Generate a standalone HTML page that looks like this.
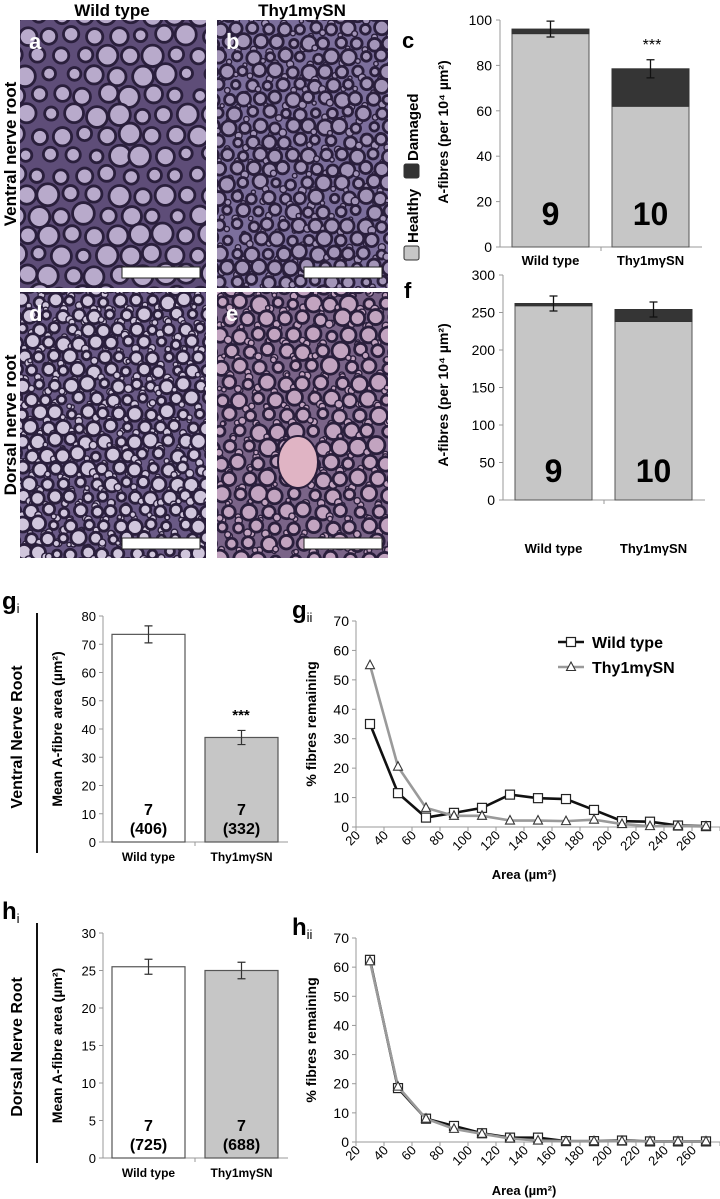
<!DOCTYPE html>
<html><head><meta charset="utf-8">
<style>
html,body{margin:0;padding:0;background:#fff;}
svg{display:block;font-family:"Liberation Sans",Arial,sans-serif;}
</style></head>
<body>
<svg id="fig" width="720" height="1199" viewBox="0 0 720 1199" xmlns="http://www.w3.org/2000/svg">
  <defs>
    <clipPath id="clipA"><rect x="20" y="20" width="186" height="268"/></clipPath>
    <clipPath id="clipB"><rect x="217" y="20" width="171" height="268"/></clipPath>
    <clipPath id="clipD"><rect x="20" y="292" width="186" height="266"/></clipPath>
    <clipPath id="clipE"><rect x="217" y="292" width="171" height="266"/></clipPath>
  </defs>
  <text x="112" y="16" text-anchor="middle" font-size="17" font-weight="bold">Wild type</text>
  <text x="302" y="16" text-anchor="middle" font-size="17" font-weight="bold">Thy1mγSN</text>
  <text transform="translate(16,154) rotate(-90)" text-anchor="middle" font-size="17" font-weight="bold">Ventral nerve root</text>
  <text transform="translate(16,425) rotate(-90)" text-anchor="middle" font-size="17" font-weight="bold">Dorsal nerve root</text>
  <g id="micro"></g>
  <g id="charts"></g>
</svg>
<script>
// ---------- chart data ----------
const groups = ["Wild type", "Thy1mγSN"];
const cHealthy = [94, 62];
const cTotal = [96, 78.5];
const cErr = [3.5, 4];
const cN = ["9", "10"];
const cTicks = [0, 20, 40, 60, 80, 100];
const fHealthy = [259, 238];
const fTotal = [262, 254];
const fErr = [10, 10];
const fN = ["9", "10"];
const fTicks = [0, 50, 100, 150, 200, 250, 300];
const giMean = [73.5, 37];
const giErr = [3, 2.5];
const giN = ["7", "7"];
const giFibres = ["(406)", "(332)"];
const giTicks = [0, 10, 20, 30, 40, 50, 60, 70, 80];
const hiMean = [25.5, 25];
const hiErr = [1, 1.1];
const hiN = ["7", "7"];
const hiFibres = ["(725)", "(688)"];
const hiTicks = [0, 5, 10, 15, 20, 25, 30];
const areaTicks = [20, 40, 60, 80, 100, 120, 140, 160, 180, 200, 220, 240, 260];
const areaBins = [30, 50, 70, 90, 110, 130, 150, 170, 190, 210, 230, 250, 270];
const pctTicks = [0, 10, 20, 30, 40, 50, 60, 70];
const giiWild = [35, 11.5, 3.2, 4.8, 6.5, 11, 9.8, 9.5, 5.8, 2, 1.8, 0.5, 0.3];
const giiThy = [55, 20.5, 6.5, 3.8, 3.8, 2.2, 2.2, 2, 2.5, 1, 0.3, 0.3, 0.2];
const hiiWild = [62.5, 18.5, 8, 5.5, 3, 1.5, 1.5, 0.3, 0.3, 0.5, 0.2, 0.2, 0.2];
const hiiThy = [62, 19, 8, 4.5, 2.8, 1.2, 0.5, 0.3, 0.3, 0.3, 0.2, 0.2, 0.2];

const NS = "http://www.w3.org/2000/svg";
function mk(tag, attrs, parent, text) {
  const e = document.createElementNS(NS, tag);
  for (const k in attrs) e.setAttribute(k, attrs[k]);
  if (text !== undefined) e.textContent = text;
  parent.appendChild(e);
  return e;
}
const charts = document.getElementById("charts");
function linY(v0, v1, p0, p1) { return v => p0 + (v - v0) * (p1 - p0) / (v1 - v0); }

// ---------- micrographs (texture) ----------
let seed = 7;
function rnd() { seed = (seed * 16807) % 2147483647; return (seed - 1) / 2147483646; }
function micro(clip, x0, y0, w, h, bg, fill, big, small, name, pinkBlob) {
  const g = mk("g", {"clip-path": "url(#" + clip + ")"}, document.getElementById("micro"));
  
  
  mk("rect", {x: x0, y: y0, width: w, height: h, fill: bg}, g);
  const step = big * 2.3;
  for (let yy = y0 - 5; yy < y0 + h + 10; yy += step * 0.87) {
    for (let xx = x0 - 5; xx < x0 + w + 10; xx += step) {
      const off = (Math.round((yy - y0) / (step * 0.87)) % 2) * step / 2;
      const r = big * (0.6 + rnd() * 0.5);
      mk("circle", {cx: xx + off + (rnd() - 0.5) * 4, cy: yy + (rnd() - 0.5) * 4, r: r, fill: fill, stroke: "#2a1f3c", "stroke-width": 2.8}, g);
      if (small) {
        for (let k = 0; k < small; k++) {
          mk("circle", {cx: xx + off + step / 2 + (rnd() - 0.5) * 6, cy: yy + step * 0.4 + (rnd() - 0.5) * 6, r: 2 + rnd() * 2, fill: fill, stroke: "#2a1f3c", "stroke-width": 1.4}, g);
        }
      }
    }
  }
  if (pinkBlob) {
    mk("ellipse", {cx: 298, cy: 462, rx: 20, ry: 26, fill: "#e0b4c4", stroke: "#2a1f3c", "stroke-width": 2}, g);
  }
}
micro("clipA", 20, 20, 186, 268, "#5e4d78", "#b8aacb", 10, 0, "micrograph-a-wild-ventral");
micro("clipB", 217, 20, 171, 268, "#7c6f9c", "#a395b8", 7, 1, "micrograph-b-thy-ventral");
micro("clipD", 20, 292, 186, 266, "#6a5a86", "#d0c6dc", 7, 2, "micrograph-d-wild-dorsal");
micro("clipE", 217, 292, 171, 266, "#7a6488", "#c2a4c0", 8, 2, "micrograph-e-thy-dorsal", true);
const mg = document.getElementById("micro");
[[20, 20, "a"], [217, 20, "b"], [20, 292, "d"], [217, 292, "e"]].forEach(p => {
  const t = mk("text", {x: p[0] + 9, y: p[1] + 29, "font-size": 22, "font-weight": "bold", fill: "#fff"}, mg, p[2]);
  
  
});
[[122, 267], [304, 267], [122, 538], [304, 538]].forEach((p, i) => {
  const r = mk("rect", {x: p[0], y: p[1], width: 78, height: 11, fill: "#fff", stroke: "#222", "stroke-width": 1}, mg);
  
  
});

// ---------- stacked bars c/f ----------
function stacked(opts) {
  const g = mk("g", {}, charts);
  
  
  const y = linY(0, opts.max, opts.y0, opts.y1);
  const ax = opts.ax;
  mk("line", {x1: ax, y1: opts.y0, x2: ax, y2: opts.y1, stroke: "#999", "stroke-width": 1}, g);
  mk("line", {x1: ax, y1: opts.y0, x2: ax + 202, y2: opts.y0, stroke: "#999", "stroke-width": 1}, g);
  opts.ticks.forEach(t => {
    mk("line", {x1: ax - 4, y1: y(t), x2: ax, y2: y(t), stroke: "#999"}, g);
    const tl = mk("text", {x: ax - 8, y: y(t) + 5, "text-anchor": "end", "font-size": 14}, g, String(t));
    
    
  });
  mk("line", {x1: ax + 101, y1: opts.y0, x2: ax + 101, y2: opts.y0 + 4, stroke: "#999"}, g);
  groups.forEach((gname, i) => {
    const bx = ax + 12 + i * 100, bw = 77;
    const h = mk("rect", {x: bx, y: y(opts.healthy[i]), width: bw, height: opts.y0 - y(opts.healthy[i]), fill: "#c6c6c6", stroke: "#555", "stroke-width": 1}, g);
    
    
    const d = mk("rect", {x: bx, y: y(opts.total[i]), width: bw, height: y(opts.healthy[i]) - y(opts.total[i]), fill: "#353535", stroke: "#333", "stroke-width": 1}, g);
    
    
    const cx = bx + bw / 2, e1 = y(opts.total[i] + opts.err[i]), e2 = y(opts.total[i] - opts.err[i]);
    const eb = mk("path", {d: `M${cx},${e1}V${e2}M${cx - 4},${e1}H${cx + 4}M${cx - 4},${e2}H${cx + 4}`, stroke: "#111", "stroke-width": 1.3, fill: "none"}, g);
    
    
    const nt = mk("text", {x: cx, y: opts.nY, "text-anchor": "middle", "font-size": 32, "font-weight": "bold"}, g, opts.n[i]);
    
    
    const xl = mk("text", {x: cx, y: opts.labY, "text-anchor": "middle", "font-size": 13, "font-weight": "bold"}, g, gname);
    
    
  });
  const yt = mk("text", {transform: `translate(${opts.titleX},${opts.titleY}) rotate(-90)`, "text-anchor": "middle", "font-size": 14, "font-weight": "bold"}, g, "A-fibres (per 10⁴ µm²)");
  
  
  return {g, y};
}
const c = stacked({name: "chart-c", ax: 500, y0: 247, y1: 20, max: 100, ticks: cTicks, healthy: cHealthy, total: cTotal, err: cErr, n: cN, nY: 225, labY: 265, titleX: 448, titleY: 132});
const ct = mk("text", {x: 652, y: 50, "text-anchor": "middle", "font-size": 16}, c.g, "***");


const cl = mk("text", {x: 402, y: 48, "font-size": 22, "font-weight": "bold"}, c.g, "c");


// legend (rotated)
const lg = mk("g", {transform: "translate(420,260) rotate(-90)"}, c.g);


mk("rect", {x: 0, y: -16, width: 14, height: 15, fill: "#c6c6c6", stroke: "#333", rx: 2}, lg);
mk("text", {x: 17, y: -2, "font-size": 15, "font-weight": "bold"}, lg, "Healthy");
mk("rect", {x: 82, y: -16, width: 14, height: 15, fill: "#333", stroke: "#333", rx: 2}, lg);
mk("text", {x: 99, y: -2, "font-size": 15, "font-weight": "bold"}, lg, "Damaged");

const f = stacked({name: "chart-f", ax: 503, y0: 500, y1: 275, max: 300, ticks: fTicks, healthy: fHealthy, total: fTotal, err: fErr, n: fN, nY: 482, labY: 553, titleX: 448, titleY: 395});
const fl = mk("text", {x: 404, y: 298, "font-size": 22, "font-weight": "bold"}, f.g, "f");



// ---------- mean bar charts gi/hi ----------
function meanChart(o) {
  const g = mk("g", {}, charts);
  
  
  const y = linY(0, o.max, o.y0, o.y1);
  const ax = 103;
  mk("line", {x1: ax, y1: o.y0, x2: ax, y2: o.y1, stroke: "#999"}, g);
  mk("line", {x1: ax, y1: o.y0, x2: 288, y2: o.y0, stroke: "#999"}, g);
  mk("line", {x1: 195, y1: o.y0, x2: 195, y2: o.y0 + 4, stroke: "#999"}, g);
  o.ticks.forEach(t => {
    mk("line", {x1: ax - 4, y1: y(t), x2: ax, y2: y(t), stroke: "#999"}, g);
    const tl = mk("text", {x: ax - 7, y: y(t) + 5, "text-anchor": "end", "font-size": 13}, g, String(t));
    
    
  });
  groups.forEach((gname, i) => {
    const bx = 112 + i * 93, bw = 73, cx = bx + bw / 2;
    const b = mk("rect", {x: bx, y: y(o.mean[i]), width: bw, height: o.y0 - y(o.mean[i]), fill: i ? "#c6c6c6" : "#fff", stroke: "#555", "stroke-width": 1.2}, g);
    
    
    const e1 = y(o.mean[i] + o.err[i]), e2 = y(o.mean[i] - o.err[i]);
    const eb = mk("path", {d: `M${cx},${e1}V${e2}M${cx - 4},${e1}H${cx + 4}M${cx - 4},${e2}H${cx + 4}`, stroke: "#333", "stroke-width": 1.2, fill: "none"}, g);
    
    
    const n1 = mk("text", {x: cx, y: o.y0 - 27, "text-anchor": "middle", "font-size": 16, "font-weight": "bold"}, g, o.n[i]);
    
    
    const n2 = mk("text", {x: cx, y: o.y0 - 8, "text-anchor": "middle", "font-size": 16, "font-weight": "bold"}, g, o.fib[i]);
    
    
    const xl = mk("text", {x: cx, y: o.y0 + 19, "text-anchor": "middle", "font-size": 12, "font-weight": "bold"}, g, gname);
    
    
  });
  const yt = mk("text", {transform: `translate(62,${(o.y0 + o.y1) / 2}) rotate(-90)`, "text-anchor": "middle", "font-size": 14, "font-weight": "bold"}, g, "Mean A-fibre area (µm²)");
  
  
  mk("line", {x1: 37, y1: o.lineTop, x2: 37, y2: o.lineTop + 240, stroke: "#111", "stroke-width": 2}, g);
  const rl = mk("text", {transform: `translate(22,${o.lineTop + 124}) rotate(-90)`, "text-anchor": "middle", "font-size": 16, "font-weight": "bold"}, g, o.root);
  
  
  const pl = mk("text", {x: 2, y: o.lineTop - 4, "font-size": 24, "font-weight": "bold"}, g, o.letter);
  
  
  mk("tspan", {"font-size": 13, "font-weight": "normal", dy: 4}, pl, "i");
  return {g, y};
}
const gi = meanChart({name: "chart-gi", y0: 842, y1: 616, max: 80, ticks: giTicks, mean: giMean, err: giErr, n: giN, fib: giFibres, lineTop: 613, root: "Ventral Nerve Root", letter: "g"});
const gs = mk("text", {x: 241, y: 720, "text-anchor": "middle", "font-size": 15, "font-weight": "bold"}, gi.g, "***");


meanChart({name: "chart-hi", y0: 1158, y1: 933, max: 30, ticks: hiTicks, mean: hiMean, err: hiErr, n: hiN, fib: hiFibres, lineTop: 923, root: "Dorsal Nerve Root", letter: "h"});

// ---------- line charts gii/hii ----------
function lineChart(o) {
  const g = mk("g", {}, charts);
  
  
  const ax = 356, bw = 28;
  const y = linY(0, 70, o.y0, o.y1);
  const x = v => ax + (v - 20) / 20 * bw;
  mk("line", {x1: ax, y1: o.y0, x2: ax, y2: o.y1, stroke: "#999"}, g);
  mk("line", {x1: ax, y1: o.y0, x2: x(280), y2: o.y0, stroke: "#999"}, g);
  pctTicks.forEach(t => {
    mk("line", {x1: ax - 4, y1: y(t), x2: ax, y2: y(t), stroke: "#999"}, g);
    const tl = mk("text", {x: ax - 7, y: y(t) + 5, "text-anchor": "end", "font-size": 14}, g, String(t));
    
    
  });
  areaTicks.concat([280]).forEach(t => {
    mk("line", {x1: x(t), y1: o.y0, x2: x(t), y2: o.y0 + 4, stroke: "#999"}, g);
  });
  areaTicks.forEach(t => {
    const tl = mk("text", {transform: `translate(${x(t) + 5},${o.y0 + 9}) rotate(-45)`, "text-anchor": "end", "font-size": 13}, g, String(t));
    
    
  });
  function series(vals, color, marker, nm, w) {
    const sg = mk("g", {}, g);
    
    
    mk("polyline", {points: areaBins.map((b, i) => x(b) + "," + y(vals[i])).join(" "), fill: "none", stroke: color, "stroke-width": w}, sg);
    areaBins.forEach((b, i) => {
      const px = x(b), py = y(vals[i]);
      if (marker === "sq") mk("rect", {x: px - 4.5, y: py - 4.5, width: 9, height: 9, fill: "#fff", stroke: "#222", "stroke-width": 1.2}, sg);
      else mk("path", {d: `M${px},${py - 5}L${px + 4.5},${py + 3.5}L${px - 4.5},${py + 3.5}Z`, fill: "#fff", stroke: "#333", "stroke-width": 1.1}, sg);
    });
  }
  series(o.wild, "#111", "sq", "series-wild-type", 2.6);
  series(o.thy, "#9a9a9a", "tri", "series-thy1", 2.6);
  const yt = mk("text", {transform: `translate(316,${(o.y0 + o.y1) / 2}) rotate(-90)`, "text-anchor": "middle", "font-size": 14, "font-weight": "bold"}, g, "% fibres remaining");
  
  
  const xt = mk("text", {x: 524, y: o.xtY, "text-anchor": "middle", "font-size": 13, "font-weight": "bold"}, g, "Area (µm²)");
  
  
  const pl = mk("text", {x: 292, y: o.y1 - 3, "font-size": 24, "font-weight": "bold"}, g, o.letter);
  
  
  mk("tspan", {"font-size": 13, "font-weight": "normal", dy: 4}, pl, "ii");
  return g;
}
const gii = lineChart({name: "chart-gii", y0: 827, y1: 621, wild: giiWild, thy: giiThy, xtY: 879, letter: "g"});
lineChart({name: "chart-hii", y0: 1142, y1: 938, wild: hiiWild, thy: hiiThy, xtY: 1195, letter: "h"});
// legend for gii
const leg = mk("g", {}, gii);


mk("line", {x1: 558, y1: 642, x2: 584, y2: 642, stroke: "#111", "stroke-width": 2.6}, leg);
mk("rect", {x: 566.5, y: 637.5, width: 9, height: 9, fill: "#fff", stroke: "#222", "stroke-width": 1.2}, leg);
mk("text", {x: 592, y: 648, "font-size": 16, "font-weight": "bold"}, leg, "Wild type");
mk("line", {x1: 558, y1: 667, x2: 584, y2: 667, stroke: "#9a9a9a", "stroke-width": 2.6}, leg);
mk("path", {d: "M571,662L575.5,670.5L566.5,670.5Z", fill: "#fff", stroke: "#333", "stroke-width": 1.1}, leg);
mk("text", {x: 592, y: 673, "font-size": 16, "font-weight": "bold"}, leg, "Thy1mγSN");
</script>
</body></html>
